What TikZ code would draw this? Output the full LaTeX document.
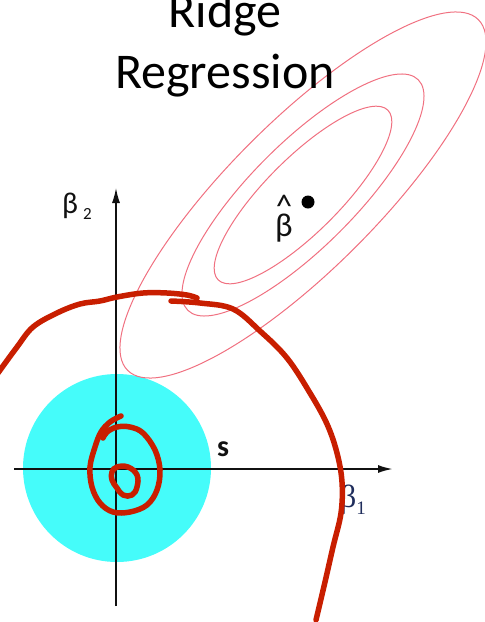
\documentclass[tikz,border=0pt]{standalone}
\usepackage{fontspec}
\setmainfont{Carlito}
\newfontfamily\serifgreek{Liberation Serif}
\usetikzlibrary{arrows.meta}
\definecolor{cink}{HTML}{111111}
\definecolor{cball}{HTML}{45FCFA}
\definecolor{ccont}{HTML}{F07080}
\definecolor{cpen}{HTML}{C81E00}
\definecolor{cnavy}{HTML}{1F2D5C}

\begin{document}
\begin{tikzpicture}[
    x=1pt, y=-1pt,
    >={Latex[length=15pt, width=8pt]},
    axis/.style={->, line width=1.3pt, draw=cink},
    ball/.style={fill=cball},
    contour/.style={draw=ccont, line width=1pt},
    pen/.style={draw=cpen, line width=5.5pt, line cap=round, line join=round},
    ttl/.style={font=\fontsize{50}{58}\selectfont, text=black, anchor=base, inner sep=0pt},
    lbl/.style={font=\fontsize{30}{32}\selectfont, text=cink, inner sep=0pt},
    dotm/.style={circle, fill=black, inner sep=0pt, minimum size=13pt},
  ]
  \useasboundingbox (0,0) rectangle (485,622);

  \coordinate (O) at (117,468);
  \coordinate (bhat) at (303,195);

  % constraint region
  \fill[ball] (O) circle (94);

  % axes
  \coordinate (xl) at (14,469);
  \coordinate (xr) at (393,469);
  \coordinate (yb) at (116,606);
  \coordinate (yt) at (116,188);
  \draw[axis, line width=2pt] (xl) -- (xr);
  \draw[axis] (yb) -- (yt);

  % RSS contours
  \foreach \ra/\rb in {120/37, 163/52, 248/74}
    \draw[contour, rotate around={45:(bhat)}] (bhat) ellipse (\ra pt and \rb pt);

  \node[dotm] (bdot) at (308,202) {};

  % labels
  \node[ttl] (title1) at (225,27) {Ridge};
  \node[ttl] (title2) at (225,88) {Regression};
  \node[lbl] (b2) at (77,206) {β\,\raisebox{-6pt}{\fontsize{17}{17}\selectfont 2}};
  \node[lbl, align=center, font=\fontsize{33}{34}\selectfont] (bhatlbl) at (284,219)
    {\textasciicircum\\[-15pt]β};
  \node[lbl, font=\bfseries\fontsize{30}{32}\selectfont] (slbl) at (223,449) {s};
  \node[lbl, text=cnavy, font=\serifgreek\fontsize{32}{34}\selectfont] (b1) at (353,500)
    {β\raisebox{-7pt}{\fontsize{19}{19}\selectfont 1}};

  % hand-drawn strokes
  \draw[pen] plot[smooth, tension=0.6] coordinates {(-2,373) (17,347) (33,327) (57,313)
    (80,304) (100,301) (117,297) (143,293) (167,293) (187,295) (197,298)};
  \draw[pen] plot[smooth, tension=0.6] coordinates {(171,301) (200,303) (233,309)
    (260,331) (287,358) (310,393) (327,424) (337,453) (342,482) (341,513) (333,547)
    (325,582) (316,620)};
  \draw[pen] plot[smooth, tension=0.6] coordinates {(121,416) (110,422) (101,432) (95,447)
    (90,467) (92,487) (100,503) (113,512) (130,512) (147,505) (157,490) (160,470)
    (155,450) (143,433) (130,427) (117,427) (107,432) (103,438)};
  \draw[pen] plot[smooth cycle, tension=0.7] coordinates {(112,472) (117,467) (128,467)
    (137,475) (137,487) (132,495) (123,495) (117,488) (112,480)};
\end{tikzpicture}
\end{document}
